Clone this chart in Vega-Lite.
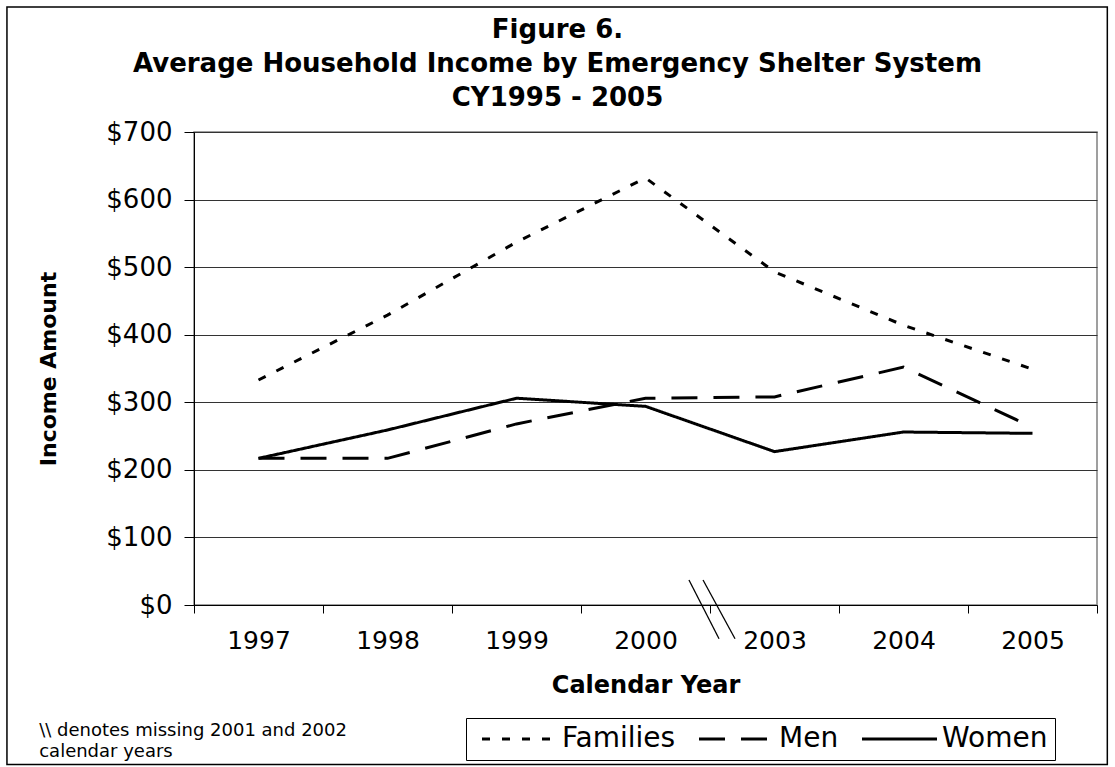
{
  "$schema": "https://vega.github.io/schema/vega-lite/v6.json",
  "width": 903,
  "height": 473,
  "autosize": {"type": "none"},
  "padding": {"left": 194, "top": 132, "right": 18, "bottom": 162},
  "background": "white",
  "title": {
    "text": ["Figure 6.", "Average Household Income by Emergency Shelter System", "CY1995 - 2005"],
    "font": "DejaVu Sans",
    "fontSize": 26,
    "fontWeight": "bold",
    "lineHeight": 34,
    "color": "black",
    "anchor": "middle",
    "frame": "group",
    "dx": -88,
    "offset": -105
  },
  "config": {
    "font": "DejaVu Sans",
    "view": {"stroke": "#808080", "strokeWidth": 1.5}
  },
  "data": {
    "values": [
      {"year": "1997", "group": "Families", "income": 333},
      {"year": "1998", "group": "Families", "income": 429},
      {"year": "1999", "group": "Families", "income": 537},
      {"year": "2000", "group": "Families", "income": 632},
      {"year": "2003", "group": "Families", "income": 493},
      {"year": "2004", "group": "Families", "income": 414},
      {"year": "2005", "group": "Families", "income": 349},
      {"year": "1997", "group": "Men", "income": 217},
      {"year": "1998", "group": "Men", "income": 217},
      {"year": "1999", "group": "Men", "income": 268},
      {"year": "2000", "group": "Men", "income": 306},
      {"year": "2003", "group": "Men", "income": 308},
      {"year": "2004", "group": "Men", "income": 352},
      {"year": "2005", "group": "Men", "income": 263},
      {"year": "1997", "group": "Women", "income": 217},
      {"year": "1998", "group": "Women", "income": 259},
      {"year": "1999", "group": "Women", "income": 306},
      {"year": "2000", "group": "Women", "income": 294},
      {"year": "2003", "group": "Women", "income": 227},
      {"year": "2004", "group": "Women", "income": 256},
      {"year": "2005", "group": "Women", "income": 254}
    ]
  },
  "layer": [
    {
      "data": {"values": [{}]},
      "mark": {"type": "rect", "filled": false, "stroke": "black", "strokeWidth": 1.5},
      "encoding": {
        "x": {"datum": "1997", "type": "ordinal", "bandPosition": -1.45},
        "x2": {"datum": "2005", "bandPosition": 1.08},
        "y": {"datum": 885, "type": "quantitative"},
        "y2": {"datum": -236}
      }
    },
    {
      "mark": {"type": "line", "color": "black", "strokeWidth": 3, "strokeCap": "butt"},
      "encoding": {
        "x": {
          "field": "year",
          "type": "ordinal",
          "bandPosition": 0.5,
          "scale": {"type": "band", "domain": ["1997", "1998", "1999", "2000", "2003", "2004", "2005"], "paddingInner": 0, "paddingOuter": 0},
          "axis": {
            "title": "Calendar Year",
            "titleFontSize": 24,
            "titleFontWeight": "bold",
            "titleColor": "black",
            "titlePadding": 20,
            "labelFontSize": 25,
            "labelColor": "black",
            "labelAngle": 0,
            "labelAlign": "center",
            "labelPadding": 27,
            "bandPosition": 0.5,
            "tickSize": 8,
            "tickColor": "black",
            "tickBand": "extent",
            "domainColor": "black",
            "grid": false
          }
        },
        "y": {
          "field": "income",
          "type": "quantitative",
          "scale": {"domain": [0, 700], "nice": false},
          "axis": {
            "title": "Income Amount",
            "titleFontSize": 22,
            "titleFontWeight": "bold",
            "titleColor": "black",
            "titlePadding": 45,
            "values": [0, 100, 200, 300, 400, 500, 600, 700],
            "format": "$,.0f",
            "labelFontSize": 26,
            "labelColor": "black",
            "labelPadding": 12,
            "tickSize": 10,
            "tickColor": "black",
            "domainColor": "black",
            "grid": true,
            "gridColor": "#333333",
            "gridWidth": 1
          }
        },
        "strokeDash": {
          "field": "group",
          "type": "nominal",
          "scale": {"domain": ["Families", "Men", "Women"], "range": [[8, 12], [26, 16], [1, 0]]},
          "legend": {
            "title": null,
            "orient": "none",
            "legendX": 272,
            "legendY": 586,
            "direction": "horizontal",
            "strokeColor": "black",
            "fillColor": "white",
            "padding": 7,
            "labelFontSize": 28,
            "labelColor": "black",
            "labelOffset": 61,
            "columnPadding": 14,
            "symbolType": "M-1,0H14",
            "symbolSize": 100,
            "symbolStrokeWidth": 3,
            "symbolStrokeColor": "black",
            "symbolFillColor": "transparent"
          }
        }
      }
    },
    {
      "data": {"values": [{}]},
      "mark": {"type": "rule", "color": "black", "strokeWidth": 1.3},
      "encoding": {
        "x": {"datum": "2000", "type": "ordinal", "bandPosition": 0.837},
        "x2": {"datum": "2003", "bandPosition": 0.07},
        "y": {"datum": 37, "type": "quantitative"},
        "y2": {"datum": -50}
      }
    },
    {
      "data": {"values": [{}]},
      "mark": {"type": "rule", "color": "black", "strokeWidth": 1.3},
      "encoding": {
        "x": {"datum": "2000", "type": "ordinal", "bandPosition": 0.946},
        "x2": {"datum": "2003", "bandPosition": 0.194},
        "y": {"datum": 37, "type": "quantitative"},
        "y2": {"datum": -50}
      }
    },
    {
      "data": {"values": [{}]},
      "mark": {
        "type": "text",
        "align": "left",
        "baseline": "top",
        "fontSize": 18,
        "lineHeight": 21,
        "color": "black",
        "text": ["\\\\ denotes missing 2001 and 2002", "calendar years"]
      },
      "encoding": {
        "x": {"datum": "1997", "type": "ordinal", "bandPosition": -1.2},
        "y": {"datum": -173, "type": "quantitative"}
      }
    }
  ]
}
